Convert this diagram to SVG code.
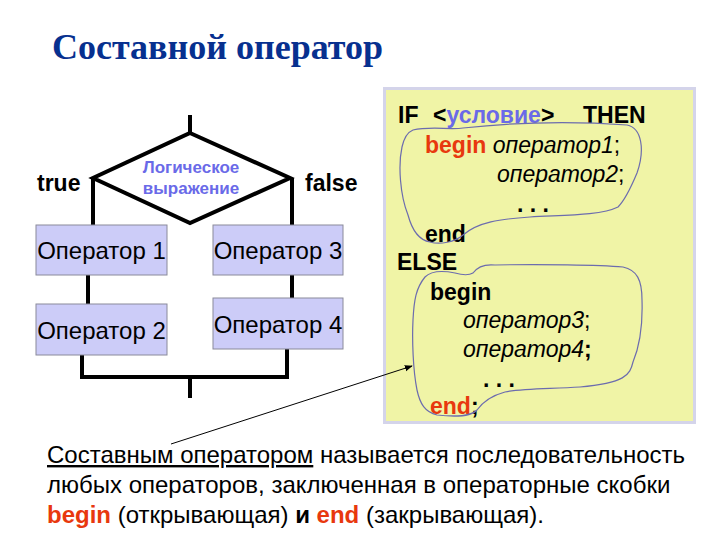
<svg xmlns="http://www.w3.org/2000/svg" width="720" height="540" viewBox="0 0 720 540">
<defs>
<style>
.t{font-family:"Liberation Sans",Arial,sans-serif}
.b{font-weight:bold}
.i{font-style:italic}
.red{fill:#e8380e}
.box{fill:#ccccf8;stroke:#8a8a9a;stroke-width:1}
.ln{fill:none;stroke:#000;stroke-width:4}
.blob{fill:none;stroke:#6c6cae;stroke-width:1.2}
.bt{font-size:24px;fill:#000}
.code{font-size:23px;fill:#000}
</style>
<marker id="ah" viewBox="0 0 10 10" refX="9" refY="5" markerWidth="8" markerHeight="8" orient="auto" markerUnits="userSpaceOnUse"><path d="M0,1 L10,5 L0,9 Z" fill="#000"/></marker>
</defs>
<rect width="720" height="540" fill="#fff"/>
<text x="52" y="59" font-family="'Liberation Serif',serif" font-weight="bold" font-size="36" fill="#07308f">Составной оператор</text>

<g id="connectors">
<path class="ln" d="M190,115 V133"/>
<path class="ln" d="M93,178 V225"/>
<path class="ln" d="M292,178 V225"/>
<path class="ln" d="M88,275 V304"/>
<path class="ln" d="M292,275 V298"/>
<path class="ln" d="M82,355 V377 H287 V349"/>
<path class="ln" d="M190,377 V398"/>
</g>

<g id="decision">
<polygon points="190,133 290,178 190,223 93,178" fill="#fff" stroke="#000" stroke-width="4" stroke-linejoin="miter"/>
<text class="t b" x="191" y="173" font-size="17" fill="#6a6ae8" text-anchor="middle">Логическое</text>
<text class="t b" x="191" y="194" font-size="17" fill="#6a6ae8" text-anchor="middle">выражение</text>
</g>
<text class="t b" x="37" y="191" font-size="23">true</text>
<text class="t b" x="305" y="191" font-size="23">false</text>

<g id="op1"><rect class="box" x="36" y="225" width="131" height="50"/><text class="t bt" x="101.5" y="259" text-anchor="middle">Оператор 1</text></g>
<g id="op2"><rect class="box" x="36" y="304" width="131" height="51"/><text class="t bt" x="101.5" y="339" text-anchor="middle">Оператор 2</text></g>
<g id="op3"><rect class="box" x="213" y="225" width="130" height="50"/><text class="t bt" x="278" y="259" text-anchor="middle">Оператор 3</text></g>
<g id="op4"><rect class="box" x="213" y="298" width="130" height="51"/><text class="t bt" x="278" y="333" text-anchor="middle">Оператор 4</text></g>

<g id="code">
<rect x="384.5" y="88.5" width="310" height="334" fill="#f0f4a6" stroke="#d4d4ea" stroke-width="3"/>
<text class="t b code" x="398" y="123">IF</text>
<text class="t b code" x="433" y="123">&lt;<tspan fill="#6a6ae8">условие</tspan>&gt;</text>
<text class="t b code" x="583" y="123">THEN</text>
<text class="t code" x="425" y="153"><tspan class="b red">begin</tspan> <tspan class="i">оператор1</tspan>;</text>
<text class="t code i" x="497" y="182">оператор2<tspan font-style="normal">;</tspan></text>
<text class="t b code" x="517" y="212">. . .</text>
<text class="t b code red" x="425" y="242">end</text>
<text class="t b code" x="397" y="270">ELSE</text>
<text class="t b code red" x="430" y="300">begin</text>
<text class="t code i" x="463" y="328">оператор3<tspan font-style="normal">;</tspan></text>
<text class="t code i" x="463" y="357">оператор4<tspan font-style="normal" font-weight="bold">;</tspan></text>
<text class="t b code" x="483" y="387">. . .</text>
<text class="t b code" x="430" y="414"><tspan class="red">end</tspan>;</text>
<path class="blob" d="M413,130 C430,126 450,130 463,128 C500,124 560,120 627,125 C642,128 645,150 637,173 C632,185 625,200 618,207 C600,216 560,215 530,217 C500,219 478,222 463,235 C455,242 440,245 430,242 C418,240 412,230 408,215 C400,195 398,165 402,147 C404,138 408,132 413,130 Z"/>
<path class="blob" d="M473,273 C478,266 485,264 495,265 C540,264 600,265 623,267 C637,270 642,280 642,300 C643,330 638,350 633,362 C630,375 625,383 580,387 C550,389 525,388 505,392 C490,396 482,403 477,410 C472,416 455,417 437,415 C425,412 420,404 417,390 C413,370 412,340 413,320 C414,300 416,288 425,277 C432,270 445,271 455,273 C462,275 468,276 473,273 Z"/>
</g>

<path d="M171,444 L412,366" stroke="#000" stroke-width="1" fill="none" marker-end="url(#ah)"/>

<g id="definition" class="t" font-size="24" fill="#000">
<text x="47" y="463"><tspan text-decoration="underline">Составным оператором</tspan> называется последовательность</text>
<text x="47" y="493">любых операторов, заключенная в операторные скобки</text>
<text x="47" y="523"><tspan class="b red">begin</tspan> (открывающая) <tspan font-weight="bold">и</tspan> <tspan class="b red">end</tspan> (закрывающая).</text>
</g>
</svg>
